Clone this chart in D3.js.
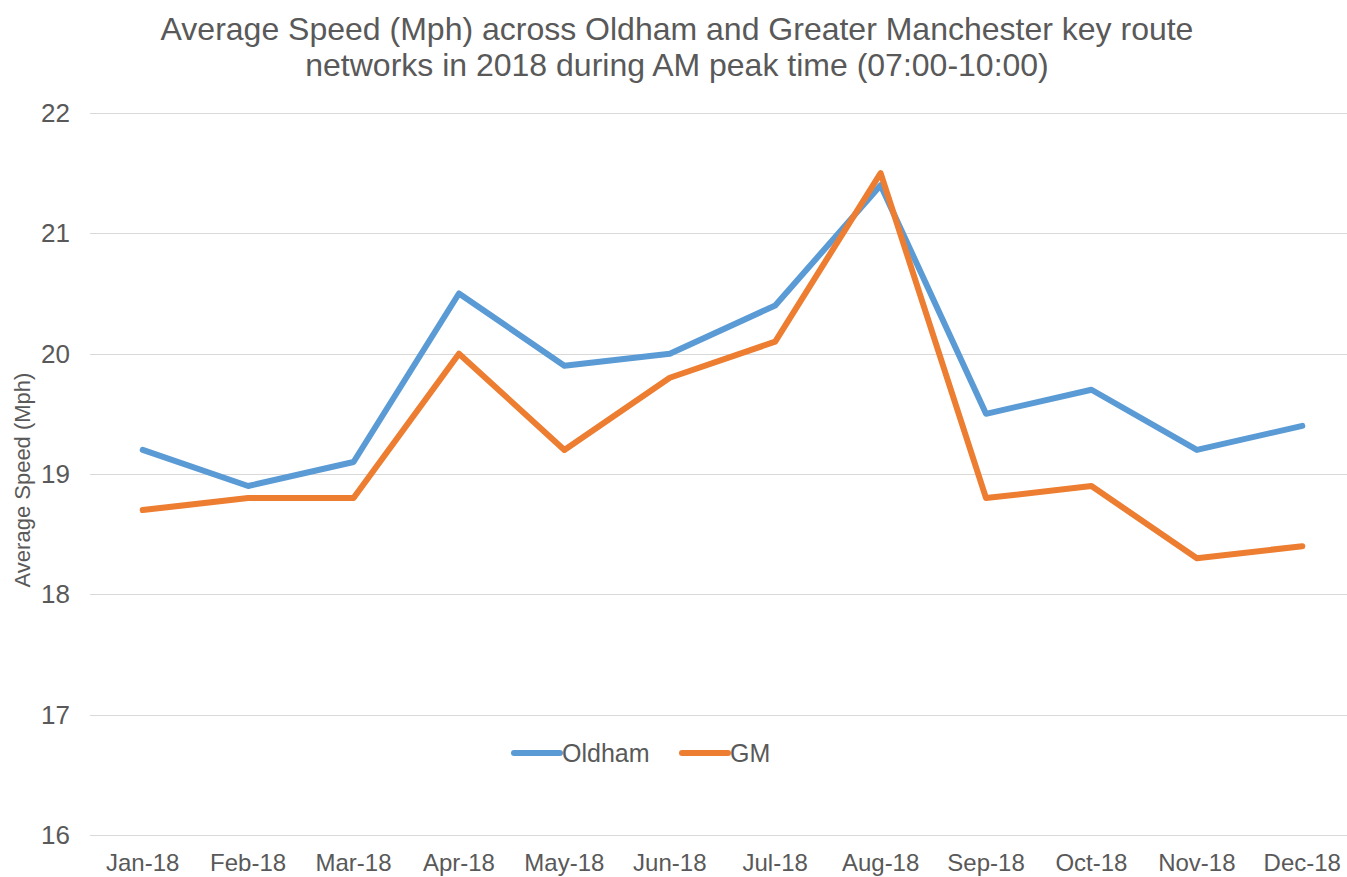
<!DOCTYPE html>
<meta charset="utf-8">
<script src="https://d3js.org/d3.v7.min.js"></script>
<style>
  body { margin: 0; background: #fff; }
  text { font-family: "Liberation Sans", Arial, sans-serif; fill: #595959; }
</style>
<div id="my_dataviz"></div>
<script>

// data
var months = ["Jan-18", "Feb-18", "Mar-18", "Apr-18", "May-18", "Jun-18",
              "Jul-18", "Aug-18", "Sep-18", "Oct-18", "Nov-18", "Dec-18"];
var oldham = [19.2, 18.9, 19.1, 20.5, 19.9, 20.0, 20.4, 21.4, 19.5, 19.7, 19.2, 19.4];
var gm     = [18.7, 18.8, 18.8, 20.0, 19.2, 19.8, 20.1, 21.5, 18.8, 18.9, 18.3, 18.4];
var yTicks = [16, 17, 18, 19, 20, 21, 22];
var seriesNames = ["Oldham", "GM"];
var seriesColors = ["#5B9BD5", "#ED7D31"];

var W = 1347, H = 877;
var margin = {top: 113, right: -8, bottom: 42, left: 90},
    width = W - margin.left - margin.right,
    height = H - margin.top - margin.bottom;

var svg = d3.select("#my_dataviz")
  .append("svg")
    .attr("width", W)
    .attr("height", H)
    .style("display", "block");

var g = svg.append("g")
    .attr("transform", "translate(" + margin.left + "," + margin.top + ")");

var x = d3.scalePoint()
    .domain(months)
    .range([0, width])
    .padding(0.5);

var y = d3.scaleLinear()
    .domain([16, 22])
    .range([height, 0]);

// gridlines
g.selectAll("line.grid")
  .data(yTicks)
  .enter().append("line")
    .attr("class", "grid")
    .attr("x1", 0)
    .attr("x2", width)
    .attr("y1", function(d) { return Math.round(y(d)) + 0.5; })
    .attr("y2", function(d) { return Math.round(y(d)) + 0.5; })
    .attr("stroke", "#d9d9d9")
    .attr("stroke-width", 1);

// y tick labels
g.selectAll("text.ytick")
  .data(yTicks)
  .enter().append("text")
    .attr("class", "ytick")
    .attr("x", -20)
    .attr("y", function(d) { return y(d); })
    .attr("dy", "0.35em")
    .attr("text-anchor", "end")
    .style("font-size", "26px")
    .text(function(d) { return d; });

// x tick labels
g.selectAll("text.xtick")
  .data(months)
  .enter().append("text")
    .attr("class", "xtick")
    .attr("x", function(d) { return x(d); })
    .attr("y", height + 36)
    .attr("text-anchor", "middle")
    .style("font-size", "24px")
    .text(function(d) { return d; });

// y axis title
svg.append("text")
    .attr("transform", "translate(30," + 480 + ") rotate(-90)")
    .attr("text-anchor", "middle")
    .style("font-size", "22px")
    .text("Average Speed (Mph)");

// title
svg.append("text")
    .attr("x", 677)
    .attr("y", 40)
    .attr("text-anchor", "middle")
    .style("font-size", "32px")
    .text("Average Speed (Mph) across Oldham and Greater Manchester key route");
svg.append("text")
    .attr("x", 677)
    .attr("y", 76)
    .attr("text-anchor", "middle")
    .style("font-size", "32px")
    .text("networks in 2018 during AM peak time (07:00-10:00)");

// lines
var line = d3.line()
    .x(function(d, i) { return x(months[i]); })
    .y(function(d) { return y(d); });

[oldham, gm].forEach(function(vals, k) {
  g.append("path")
    .datum(vals)
    .attr("fill", "none")
    .attr("stroke", seriesColors[k])
    .attr("stroke-width", 6)
    .attr("stroke-linejoin", "round")
    .attr("stroke-linecap", "round")
    .attr("d", line);
});

// legend
var legend = svg.append("g");
var legendX = [514, 682];
seriesNames.forEach(function(name, k) {
  legend.append("line")
    .attr("x1", legendX[k])
    .attr("x2", legendX[k] + 46)
    .attr("y1", 753)
    .attr("y2", 753)
    .attr("stroke", seriesColors[k])
    .attr("stroke-width", 6)
    .attr("stroke-linecap", "round");
  legend.append("text")
    .attr("x", legendX[k] + 48)
    .attr("y", 753)
    .attr("dy", "0.35em")
    .style("font-size", "25px")
    .text(name);
});

</script>
